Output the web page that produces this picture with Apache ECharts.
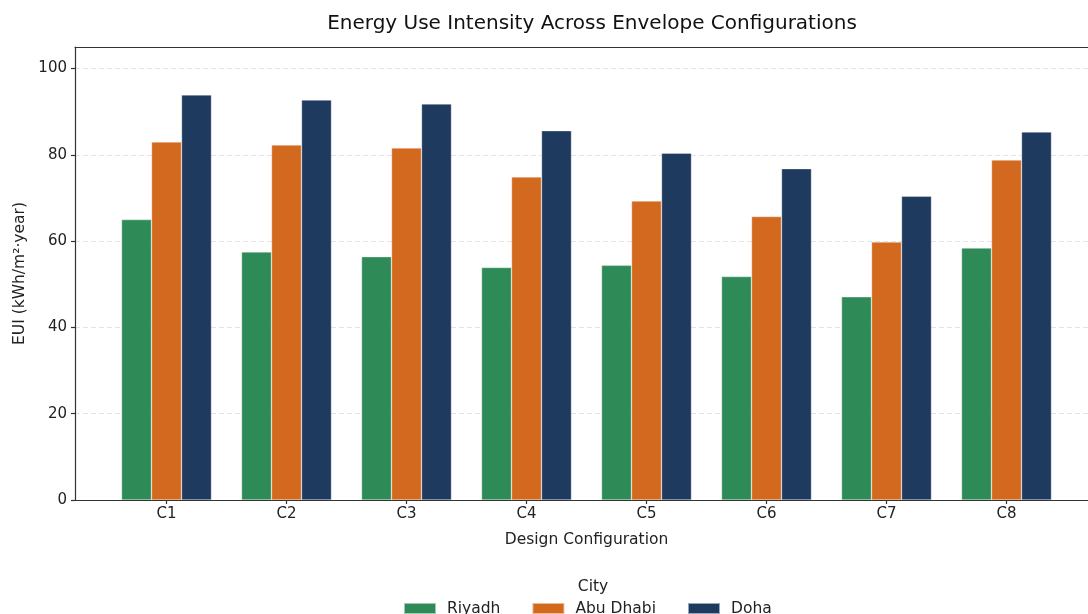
<!DOCTYPE html>
<html>
<head>
<meta charset="utf-8">
<script src="https://cdn.jsdelivr.net/npm/echarts@6/dist/echarts.min.js"></script>
<style>html,body{margin:0;padding:0;background:#fff;}#chart{width:1088px;height:614px;}</style>
</head>
<body>
<div id="chart"></div>
<script>
const categories = ['C1','C2','C3','C4','C5','C6','C7','C8'];
const riyadh   = [65.0, 57.5, 56.4, 53.9, 54.4, 51.8, 47.1, 58.4];
const abuDhabi = [83.0, 82.3, 81.6, 74.9, 69.3, 65.7, 59.8, 78.8];
const doha     = [93.9, 92.7, 91.8, 85.6, 80.4, 76.8, 70.4, 85.3];
const yTicks = [0, 20, 40, 60, 80, 100];

const FONT = 'DejaVu Sans';
const colors = ['#2E8B57', '#D2691E', '#1F3A5F'];
const chart = echarts.init(document.getElementById('chart'), null, {renderer: 'canvas'});

function barSeries(name, data, color) {
  return {
    name: name, type: 'bar', xAxisIndex: 1, yAxisIndex: 1, data: data,
    barWidth: 30, barGap: '0%', z: 2,
    itemStyle: {color: color, borderColor: 'rgba(255,255,255,0.55)', borderWidth: 0.6},
    emphasis: {disabled: true}
  };
}
const spine = {show: true, lineStyle: {color: '#333', width: 1.2}};

chart.setOption({
  animation: false,
  color: colors,
  textStyle: {fontFamily: FONT},
  title: [
    {text: 'Energy Use Intensity Across Envelope Configurations', left: 587, top: 9, textAlign: 'center',
     textStyle: {fontFamily: FONT, fontSize: 20, fontWeight: 'normal', color: '#111'}},
    {text: 'City', left: 588, top: 574, textAlign: 'center',
     textStyle: {fontFamily: FONT, fontSize: 15.5, fontWeight: 'normal', color: '#222'}}
  ],
  legend: {
    data: ['Riyadh', 'Abu Dhabi', 'Doha'],
    left: 403, top: 600.5, padding: 0,
    itemWidth: 32, itemHeight: 11, itemGap: 31, icon: 'rect',
    textStyle: {fontFamily: FONT, fontSize: 15.5, color: '#222', padding: [0, 0, 0, 6]}
  },
  grid: [
    {left: 75, top: 47, right: -10.5, bottom: 114},
    {left: 106.5, top: 47, width: 960, bottom: 114}
  ],
  xAxis: [
    {type: 'value', gridIndex: 0, min: 0, max: 1, position: 'bottom', z: 5,
     axisLine: spine, axisTick: {show: false}, axisLabel: {show: false}, splitLine: {show: false}},
    {type: 'category', gridIndex: 1, data: categories,
     axisLine: {show: false},
     axisTick: {show: true, alignWithLabel: true, length: 4, lineStyle: {color: '#333', width: 1.2}},
     axisLabel: {fontFamily: FONT, fontSize: 15, color: '#222', margin: 7},
     name: 'Design Configuration', nameLocation: 'middle', nameGap: 32,
     nameTextStyle: {fontFamily: FONT, fontSize: 15.5, color: '#222'}},
    {type: 'value', gridIndex: 0, min: 0, max: 1, position: 'top', z: 5,
     axisLine: spine, axisTick: {show: false}, axisLabel: {show: false}, splitLine: {show: false}}
  ],
  yAxis: [
    {type: 'value', gridIndex: 0, min: 0, max: 105, interval: 20, z: 0,
     axisLine: spine,
     axisTick: {show: true, length: 4, customValues: yTicks, lineStyle: {color: '#333', width: 1.2}},
     axisLabel: {fontFamily: FONT, fontSize: 15, color: '#222', margin: 8, customValues: yTicks},
     splitLine: {show: true, lineStyle: {color: '#e3e3e3', type: [5, 3], width: 1}},
     name: 'EUI (kWh/m²·year)', nameLocation: 'middle', nameGap: 46, nameRotate: 90,
     nameTextStyle: {fontFamily: FONT, fontSize: 15.5, color: '#222'}},
    {type: 'value', gridIndex: 1, min: 0, max: 105, show: false}
  ],
  series: [
    barSeries('Riyadh', riyadh, colors[0]),
    barSeries('Abu Dhabi', abuDhabi, colors[1]),
    barSeries('Doha', doha, colors[2])
  ]
});
</script>
</body>
</html>
